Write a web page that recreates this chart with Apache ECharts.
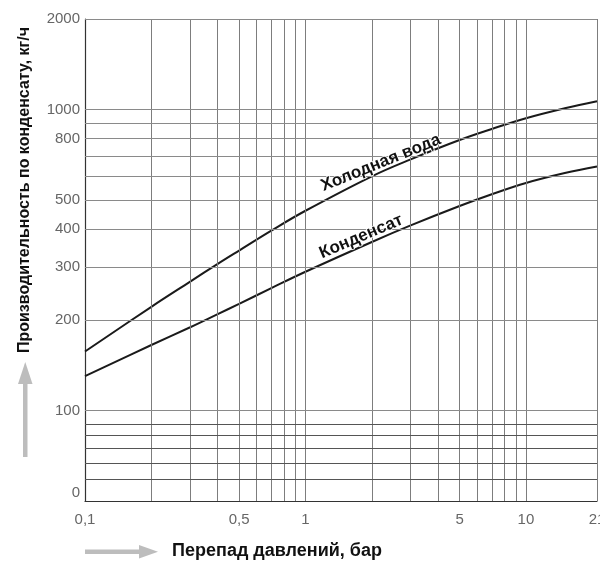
<!DOCTYPE html>
<html>
<head>
<meta charset="utf-8">
<script src="https://cdn.jsdelivr.net/npm/echarts@6/dist/echarts.min.js"></script>
<style>
html,body{margin:0;padding:0;background:#fff;}
#chart{width:600px;height:565px;}
</style>
</head>
<body>
<div id="chart"></div>
<script>
// Pressure differential, bar
const pressure = [0.1, 0.2, 0.3, 0.4, 0.5, 0.7, 1, 2, 3, 5, 7, 10, 15, 21];
// Capacity, kg/h
const coldWater = [157, 221, 268, 307, 340, 396, 461, 600, 683, 792, 862, 936, 1010, 1066];
const condensate = [130, 165, 189, 209, 226, 255, 289, 363, 412, 478, 523, 570, 615, 647];

// Grid lines and tick labels
const xGridValues = [0.2, 0.3, 0.4, 0.5, 0.6, 0.7, 0.8, 0.9, 1, 2, 3, 4, 5, 6, 7, 8, 9, 10, 21];
const yGridValues = [59, 67, 75, 83, 90, 100, 200, 300, 400, 500, 600, 700, 800, 900, 1000, 2000];
const xTickValues = [0.1, 0.5, 1, 5, 10, 21];
const xTickLabels = ['0,1', '0,5', '1', '5', '10', '21'];
const yTickValues = [50, 100, 200, 300, 400, 500, 800, 1000, 2000];
const yTickLabels = ['0', '100', '200', '300', '400', '500', '800', '1000', '2000'];

const xName = 'Перепад давлений, бар';
const yName = 'Производительность по конденсату, кг/ч';
const seriesNames = ['Холодная вода', 'Конденсат'];

const tickFont = {fontFamily: 'Liberation Sans, Arial, sans-serif', fontSize: 15, color: '#666'};
const hidden = {type: 'solid', width: 0, color: 'rgba(0,0,0,0)'};

const gridLines = [];
xGridValues.forEach(v => gridLines.push({xAxis: v, lineStyle: {type: 'solid', color: '#7d7d7d', width: 1}}));
yGridValues.forEach(v => gridLines.push({yAxis: v, lineStyle: {type: 'solid', color: v < 100 ? '#555' : '#8a8a8a', width: 1}}));

const labelLines = [];
xTickValues.forEach((v, i) => labelLines.push({
  xAxis: v,
  lineStyle: hidden,
  label: Object.assign({show: true, position: 'start', distance: 11, formatter: xTickLabels[i]}, tickFont)
}));
yTickValues.forEach((v, i) => labelLines.push({
  yAxis: v,
  lineStyle: hidden,
  label: Object.assign({show: true, position: 'start', distance: 5, formatter: yTickLabels[i],
    offset: v === 50 ? [0, -8] : [0, 0]}, tickFont)
}));

const curveLabel = {fontFamily: 'Liberation Sans, Arial, sans-serif', fontWeight: 'bold', fontSize: 17, color: '#111',
  textBorderColor: '#fff', textBorderWidth: 1.5};

const chart = echarts.init(document.getElementById('chart'), null, {renderer: 'canvas'});
chart.setOption({
  animation: false,
  backgroundColor: '#fff',
  grid: {left: 85, right: 3, top: 19, bottom: 64},
  xAxis: {
    type: 'log', logBase: 10, min: 0.1, max: 21,
    axisLine: {show: true, lineStyle: {color: '#333', width: 1.2}},
    axisTick: {show: false}, axisLabel: {show: false}, splitLine: {show: false}, minorSplitLine: {show: false}
  },
  yAxis: {
    type: 'log', logBase: 10, min: 50, max: 2000,
    axisLine: {show: true, lineStyle: {color: '#333', width: 1.2}},
    axisTick: {show: false}, axisLabel: {show: false}, splitLine: {show: false}, minorSplitLine: {show: false}
  },
  series: [
    {
      type: 'line', z: 1, silent: true, symbol: 'none', data: [],
      markLine: {silent: true, symbol: 'none', label: {show: false}, data: gridLines.concat(labelLines)}
    },
    {
      type: 'line', name: seriesNames[0], z: 3, smooth: 0.4, symbol: 'none',
      data: pressure.map((p, i) => [p, coldWater[i]]),
      lineStyle: {color: '#1a1a1a', width: 2},
      markPoint: {
        symbol: 'circle', symbolSize: 0, silent: true,
        data: [{coord: [2.2, 665]}],
        label: Object.assign({show: true, position: 'inside', rotate: 22, formatter: seriesNames[0]}, curveLabel)
      }
    },
    {
      type: 'line', name: seriesNames[1], z: 3, smooth: 0.4, symbol: 'none',
      data: pressure.map((p, i) => [p, condensate[i]]),
      lineStyle: {color: '#1a1a1a', width: 2},
      markPoint: {
        symbol: 'circle', symbolSize: 0, silent: true,
        data: [{coord: [1.79, 378]}],
        label: Object.assign({show: true, position: 'inside', rotate: 23, formatter: seriesNames[1]}, curveLabel)
      }
    }
  ],
  graphic: [
    {type: 'text', x: 25, y: 190, rotation: Math.PI / 2,
      style: {text: yName, align: 'center', verticalAlign: 'middle',
        font: 'bold 16px "Liberation Sans", Arial, sans-serif', fill: '#111'}},
    {type: 'text', x: 277, y: 551,
      style: {text: xName, align: 'center', verticalAlign: 'middle',
        font: 'bold 18px "Liberation Sans", Arial, sans-serif', fill: '#111'}},
    {type: 'rect', shape: {x: 23, y: 382, width: 4.5, height: 75}, style: {fill: '#bdbdbd'}},
    {type: 'polygon', shape: {points: [[25.25, 362], [18, 384], [32.5, 384]]}, style: {fill: '#bdbdbd'}},
    {type: 'rect', shape: {x: 85, y: 549.5, width: 56, height: 4.5}, style: {fill: '#bdbdbd'}},
    {type: 'polygon', shape: {points: [[158, 551.75], [139, 545], [139, 558.5]]}, style: {fill: '#bdbdbd'}}
  ]
});
</script>
</body>
</html>
